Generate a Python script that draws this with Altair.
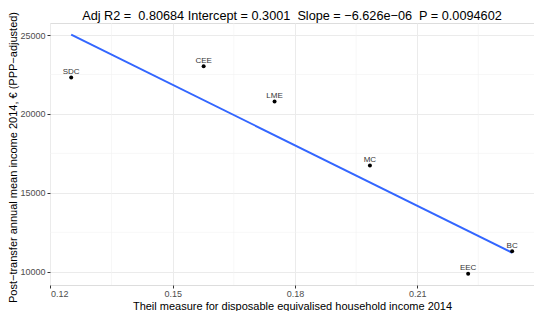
import altair as alt
import pandas as pd

regions = ["SDC", "CEE", "LME", "MC", "BC", "EEC"]
theil = [0.1251, 0.1576, 0.1750, 0.1984, 0.2333, 0.2225]
income = [22310, 23025, 20785, 16730, 11295, 9875]

x_ticks = [0.12, 0.15, 0.18, 0.21]
y_ticks = [10000, 15000, 20000, 25000]
x_minor = [0.135, 0.165, 0.195, 0.225]
y_minor = [12500, 17500, 22500]

NB = "\u00a0"
title_text = ("Adj R2 = " + NB + "0.80684 Intercept = 0.3001 " + NB + "Slope = \u22126.626e\u221206 "
              + NB + "P = 0.0094602")
x_title = "Theil measure for disposable equivalised household income 2014"
y_title = "Post\u2212transfer annual mean income 2014, \u20ac (PPP\u2212adjusted)"

df = pd.DataFrame({"region": regions, "theil": theil, "income": income})
xmin = pd.DataFrame({"v": x_minor})
ymin = pd.DataFrame({"v": y_minor})

FONT = "Liberation Sans"
W, H = 484, 262
xs = alt.Scale(domain=[0.1199, 0.23866], nice=False, zero=False)
ys = alt.Scale(domain=[9160, 25765], nice=False, zero=False)

xaxis = alt.Axis(values=x_ticks, format=".2f", title=x_title, labelFontSize=9,
                 labelColor="#4D4D4D", tickColor="#333333", tickSize=3, domain=False,
                 gridColor="#EBEBEB", titleFontSize=11, titleFontWeight="normal",
                 titleColor="#000000", labelPadding=1, titlePadding=2,
                 labelFont=FONT, titleFont=FONT)
yaxis = alt.Axis(values=y_ticks, format="d", title=y_title, labelFontSize=9,
                 labelColor="#4D4D4D", tickColor="#333333", tickSize=3, domain=False,
                 gridColor="#EBEBEB", titleFontSize=11, titleFontWeight="normal",
                 titleColor="#000000", labelPadding=2,
                 titleX=-33.3, titleY=134, titleAngle=270, titleBaseline="alphabetic",
                 titleAlign="center", labelFont=FONT, titleFont=FONT)

vminor = alt.Chart(xmin).mark_rule(color="#F2F2F2", strokeWidth=0.6).encode(
    x=alt.X("v:Q", scale=xs, axis=xaxis))
hminor = alt.Chart(ymin).mark_rule(color="#F2F2F2", strokeWidth=0.6).encode(
    y=alt.Y("v:Q", scale=ys, axis=yaxis))

base = alt.Chart(df)
pts = base.mark_circle(size=16, color="#000000", opacity=1).encode(
    x=alt.X("theil:Q", scale=xs, axis=xaxis),
    y=alt.Y("income:Q", scale=ys, axis=yaxis))
labels = base.mark_text(dy=-3.5, baseline="alphabetic", fontSize=8, color="#333333",
                        font=FONT).encode(
    x=alt.X("theil:Q", scale=xs), y=alt.Y("income:Q", scale=ys), text="region:N")
line = base.transform_regression("theil", "income").mark_line(
    color="#3366FF", strokeWidth=2).encode(
    x=alt.X("theil:Q", scale=xs), y=alt.Y("income:Q", scale=ys))

chart = alt.layer(vminor, hminor, line, pts, labels).properties(
    width=W, height=H,
    title=alt.TitleParams(title_text, fontSize=12.7, fontWeight="normal", font=FONT,
                          color="#000000", anchor="middle", dx=0, dy=26, offset=5,
                          frame="group", baseline="alphabetic"),
    autosize=alt.AutoSizeParams(type="none"),
    padding={"left": 42, "top": 15, "right": 0, "bottom": 26},
).configure_view(stroke="#333333", strokeWidth=1).configure(background="white")

chart.save("out.html", embed_options={"renderer": "svg", "actions": False})
